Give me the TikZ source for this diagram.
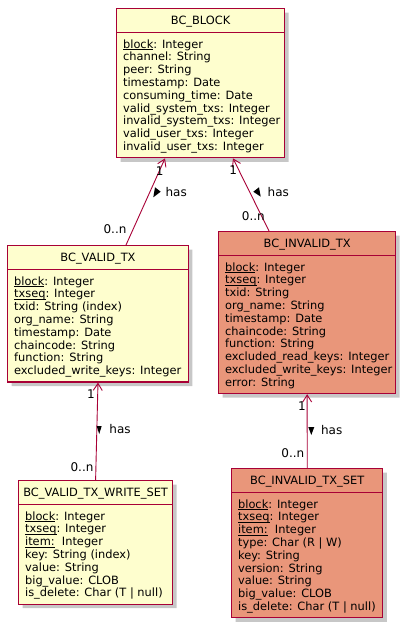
\documentclass[tikz,border=0pt]{standalone}
\usepackage{fontspec}
\setmainfont{DejaVu Sans}
\usetikzlibrary{shapes.multipart}
\usetikzlibrary{shadows}
\usetikzlibrary{arrows.meta}

\definecolor{umlred}{HTML}{A80036}
\definecolor{umlyellow}{HTML}{FEFECE}
\definecolor{umlsalmon}{HTML}{E9967A}

\newcommand{\pk}[1]{\setbox0\hbox{#1}\rlap{\rule[-1.6pt]{\wd0}{0.6pt}}\box0}
\newcommand{\head}[1]{\rule[-7.5pt]{0pt}{23pt}#1}
\newenvironment{attrs}{\begin{tabular}{@{\hspace{3pt}}l@{}}\rule{0pt}{14.7pt}\ignorespaces}{\rule[-6.7pt]{0pt}{6.7pt}\end{tabular}}

\begin{document}
\begin{tikzpicture}[x=1pt, y=-1pt,
    entity/.style={rectangle split, rectangle split parts=2,
        rectangle split part align={center,left},
        draw=umlred, line width=1.2pt, fill=umlyellow, anchor=north west,
        inner xsep=3.5pt, inner ysep=0pt,
        font=\fontsize{11.4}{12.8}\selectfont,
        drop shadow={shadow xshift=4pt, shadow yshift=-4pt, fill=black, opacity=0.22}},
    failed/.style={entity, fill=umlsalmon},
    has/.style={draw=umlred, line width=0.9pt, {Straight Barb[length=7pt,width=9pt]}-},
    lbl/.style={inner sep=0pt, font=\fontsize{12}{14}\selectfont}]
    \useasboundingbox (0,0) rectangle (407,628);

    \node[entity, minimum width=168pt] (block) at (116,8) {\head{BC\_BLOCK}
        \nodepart{two}\begin{attrs}
        \pk{block}: Integer\\
        channel: String\\
        peer: String\\
        timestamp: Date\\
        consuming\_time: Date\\
        valid\_system\_txs: Integer\\
        invalid\_system\_txs: Integer\\
        valid\_user\_txs: Integer\\
        invalid\_user\_txs: Integer
        \end{attrs}};
    \node[entity, minimum width=176pt] (valid) at (7,245) {\head{BC\_VALID\_TX}
        \nodepart{two}\begin{attrs}
        \pk{block}: Integer\\
        \pk{txseq}: Integer\\
        txid: String (index)\\
        org\_name: String\\
        timestamp: Date\\
        chaincode: String\\
        function: String\\
        excluded\_write\_keys: Integer
        \end{attrs}};
    \node[failed, minimum width=176pt] (invalid) at (218,231) {\head{BC\_INVALID\_TX}
        \nodepart{two}\begin{attrs}
        \pk{block}: Integer\\
        \pk{txseq}: Integer\\
        txid: String\\
        org\_name: String\\
        timestamp: Date\\
        chaincode: String\\
        function: String\\
        excluded\_read\_keys: Integer\\
        excluded\_write\_keys: Integer\\
        error: String
        \end{attrs}};
    \node[entity, minimum width=154pt] (writeset) at (18,480) {\head{BC\_VALID\_TX\_WRITE\_SET}
        \nodepart{two}\begin{attrs}
        \pk{block}: Integer\\
        \pk{txseq}: Integer\\
        \pk{item:}\ \ Integer\\
        key: String (index)\\
        value: String\\
        big\_value: CLOB\\
        is\_delete: Char (T | null)
        \end{attrs}};
    \node[failed, minimum width=149pt] (invalidset) at (231,468) {\head{BC\_INVALID\_TX\_SET}
        \nodepart{two}\begin{attrs}
        \pk{block}: Integer\\
        \pk{txseq}: Integer\\
        \pk{item:}\ \ Integer\\
        type: Char (R | W)\\
        key: String\\
        version: String\\
        value: String\\
        big\_value: CLOB\\
        is\_delete: Char (T | null)
        \end{attrs}};

    % relations
    \draw[has] ([xshift=49pt]block.south west) -- ([xshift=119pt]valid.north west);
    \draw[has] ([xshift=117pt]block.south west) -- ([xshift=51pt]invalid.north west);
    \draw[has] (valid.south) -- (writeset.north);
    \draw[has] (invalid.south) -- (invalidset.north);

    \node[lbl] (one-valid) at (159.7,170.7) {1};
    \node[lbl] (has-valid) at (176.2,192.5) {has};
    \node[lbl] (many-valid) at (115,229) {0..n};
    \fill (155,187.3) -- (160.7,191.7) -- (153.3,197.3) -- cycle;

    \node[lbl] (one-invalid) at (233.3,170) {1};
    \node[lbl] (has-invalid) at (278.3,192) {has};
    \node[lbl] (many-invalid) at (253.3,215.7) {0..n};
    \fill (259,187.3) -- (253.3,191.7) -- (260.7,196.7) -- cycle;

    \node[lbl] (one-write) at (91,394) {1};
    \node[lbl] (has-write) at (120,429) {has};
    \node[lbl] (many-write) at (82,466.7) {0..n};
    \fill (96.7,426) -- (101.7,426) -- (99.2,434) -- cycle;

    \node[lbl] (one-set) at (302,406) {1};
    \node[lbl] (has-set) at (331.7,430) {has};
    \node[lbl] (many-set) at (292.8,453) {0..n};
    \fill (308.3,427) -- (314.3,427) -- (311.3,435) -- cycle;
\end{tikzpicture}
\end{document}
